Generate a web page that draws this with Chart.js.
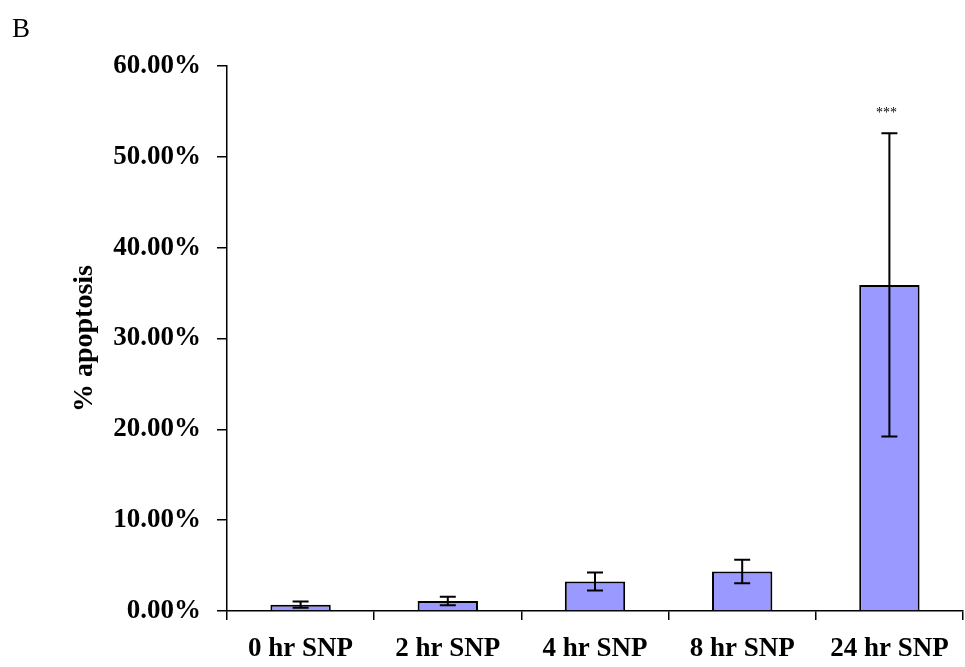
<!DOCTYPE html>
<html>
<head>
<meta charset="utf-8">
<script src="https://cdn.jsdelivr.net/npm/chart.js@4"></script>
<style>
html,body{margin:0;padding:0;background:#fff;}
#wrap{width:965px;height:667px;position:relative;}
</style>
</head>
<body>
<div id="wrap"><canvas id="c" width="965" height="667"></canvas></div>
<script>
const categories = ["0 hr SNP", "2 hr SNP", "4 hr SNP", "8 hr SNP", "24 hr SNP"];
const values = [0.70, 1.10, 3.25, 4.35, 35.9];
const errors = [0.35, 0.48, 1.00, 1.30, 16.7];
const significance = ["", "", "", "", "***"];
const yTicks = [0, 10, 20, 30, 40, 50, 60];

const serif = "'Liberation Serif', 'Times New Roman', serif";

const errPlugin = {
  id: 'errbars',
  afterDatasetsDraw(chart) {
    const ctx = chart.ctx;
    const meta = chart.getDatasetMeta(0);
    const y = chart.scales.y;
    ctx.save();
    ctx.strokeStyle = '#000';
    ctx.lineWidth = 2;
    meta.data.forEach((bar, i) => {
      const x = bar.x;
      const top = y.getPixelForValue(values[i] + errors[i]);
      const bot = y.getPixelForValue(values[i] - errors[i]);
      ctx.beginPath();
      ctx.moveTo(x, top); ctx.lineTo(x, bot);
      ctx.moveTo(x - 8, top); ctx.lineTo(x + 8, top);
      ctx.moveTo(x - 8, bot); ctx.lineTo(x + 8, bot);
      ctx.stroke();
      if (significance[i]) {
        ctx.fillStyle = '#000';
        ctx.font = '14px ' + serif;
        ctx.textAlign = 'center';
        ctx.textBaseline = 'bottom';
        ctx.fillText(significance[i], x - 3, top - 13);
      }
    });
    ctx.fillStyle = '#000';
    ctx.font = '27px ' + serif;
    ctx.textAlign = 'left';
    ctx.textBaseline = 'alphabetic';
    ctx.fillText('B', 12, 37);
    ctx.restore();
  }
};

new Chart(document.getElementById('c'), {
  type: 'bar',
  data: {
    labels: categories,
    datasets: [{
      data: values,
      backgroundColor: '#9999FF',
      borderColor: '#000',
      borderWidth: 2,
      categoryPercentage: 1.0,
      barPercentage: 0.41
    }]
  },
  options: {
    responsive: false,
    animation: false,
    devicePixelRatio: 1,
    layout: { padding: { top: 66, right: 2, left: 0, bottom: 0 } },
    plugins: { legend: { display: false }, tooltip: { enabled: false } },
    scales: {
      x: {
        grid: { drawOnChartArea: false, offset: true, tickLength: 9, color: '#000', lineWidth: 1.5 },
        border: { color: '#000', width: 1.5 },
        ticks: { color: '#000', font: { family: serif, size: 27, weight: 'bold' }, padding: 13, maxRotation: 0, autoSkip: false },
        afterFit(s) { s.height = 56; }
      },
      y: {
        min: 0, max: 60,
        afterBuildTicks(s) { s.ticks = yTicks.map(v => ({ value: v })); },
        grid: { drawOnChartArea: false, tickLength: 10, color: '#000', lineWidth: 1.5 },
        border: { color: '#000', width: 1.5 },
        ticks: { color: '#000', font: { family: serif, size: 27, weight: 'bold' }, padding: 16,
          callback: v => v.toFixed(2) + '%' },
        title: { display: true, text: '% apoptosis', color: '#000',
          font: { family: serif, size: 28, weight: 'bold' }, padding: { top: 68, bottom: 0 } },
        afterFit(s) { s.width = 227; }
      }
    }
  },
  plugins: [errPlugin]
});
</script>
</body>
</html>
